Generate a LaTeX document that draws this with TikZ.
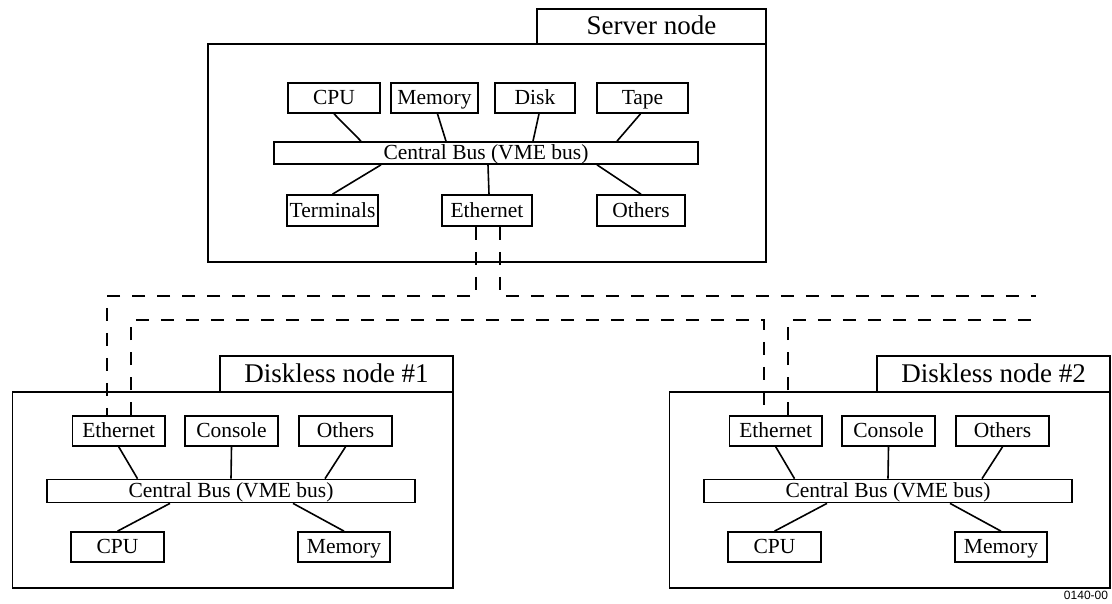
\documentclass[tikz,border=0pt]{standalone}
\usepackage{fontspec}
\setmainfont{Liberation Serif}
\newfontfamily\codefont{Liberation Sans}
\usetikzlibrary{calc}

\tikzset{
  unit/.style={draw, line width=1.7pt, inner sep=0pt, minimum height=30pt,
    text height=14pt, text depth=1pt,
    font=\fontsize{21.5}{24}\selectfont},
  busbar/.style={unit, minimum height=23pt},
  frame/.style={draw, line width=1.8pt, inner sep=0pt},
  tab/.style={draw, line width=1.8pt, inner sep=0pt,
    text height=17pt, text depth=1pt,
    font=\fontsize{27}{30}\selectfont},
  link/.style={line width=1.6pt},
  cable/.style={line width=2pt, dash pattern=on 13pt off 12pt},
}

% One diskless workstation: #1 name prefix, #2 horizontal offset, #3 title
\newcommand{\disklessunit}[3]{%
  \begin{scope}[xshift=#2]
    \node[frame, minimum width=440.5pt, minimum height=196pt] (#1frame) at (232.75,490) {};
    \node[tab, minimum width=233pt, minimum height=36pt] (#1tab) at (336.5,374) {#3};
    \node[unit, minimum width=92.5pt] (#1eth) at (118.75,431) {Ethernet};
    \node[unit, minimum width=93pt] (#1con) at (231.5,431) {Console};
    \node[unit, minimum width=93pt] (#1oth) at (345.5,431) {Others};
    \node[busbar, minimum width=368pt] (#1bus) at (231,491) {Central Bus (VME bus)};
    \node[unit, minimum width=93pt] (#1cpu) at (117.5,547) {CPU};
    \node[unit, minimum width=92pt] (#1mem) at (344,547) {Memory};
    \draw[link] (#1eth.south) -- ([xshift=-93.5pt]#1bus.north);
    \draw[link] (#1con.south) -- (#1bus.north);
    \draw[link] (#1oth.south) -- ([xshift=94pt]#1bus.north);
    \draw[link] ([xshift=-61pt]#1bus.south) -- (#1cpu.north);
    \draw[link] ([xshift=62pt]#1bus.south) -- (#1mem.north);
  \end{scope}}

\begin{document}
\begin{tikzpicture}[x=1pt, y=-1pt]
  \useasboundingbox (0,0) rectangle (1112,603);

  % Server node
  \node[frame, minimum width=558pt, minimum height=218pt] (sframe) at (487,153) {};
  \node[tab, minimum width=229pt, minimum height=35pt] (stab) at (651.5,26.5) {Server node};
  \node[unit, minimum width=92pt] (cpu) at (334,98) {CPU};
  \node[unit, minimum width=87pt] (mem) at (434.5,98) {Memory};
  \node[unit, minimum width=80pt] (disk) at (535,98) {Disk};
  \node[unit, minimum width=91pt] (tape) at (642.5,98) {Tape};
  \node[busbar, minimum width=424pt, minimum height=22pt] (sbus) at (486,153) {Central Bus (VME bus)};
  \node[unit, minimum width=91pt, minimum height=31pt] (term) at (332.5,210.5) {Terminals};
  \node[unit, minimum width=90pt, minimum height=31pt] (seth) at (487,210.5) {Ethernet};
  \node[unit, minimum width=88pt, minimum height=31pt] (soth) at (641,210.5) {Others};

  \draw[link] (cpu.south) -- ([xshift=-125pt]sbus.north);
  \draw[link] ([xshift=3pt]mem.south) -- ([xshift=-40pt]sbus.north);
  \draw[link] ([xshift=4pt]disk.south) -- ([xshift=47pt]sbus.north);
  \draw[link] ([xshift=-2pt]tape.south) -- ([xshift=131pt]sbus.north);
  \draw[link] ([xshift=-105pt]sbus.south) -- (term.north);
  \draw[link] ([xshift=2pt]sbus.south) -- ([xshift=2pt]seth.north);
  \draw[link] ([xshift=111pt]sbus.south) -- (soth.north);

  % Diskless workstations
  \disklessunit{da}{0pt}{Diskless node \#1}
  \disklessunit{db}{657pt}{Diskless node \#2}

  % Ethernet cabling
  \coordinate (trunkA) at (0,296);
  \coordinate (trunkB) at (0,320);
  \coordinate (endA) at (1036,296);
  \coordinate (endB) at (1036,320);

  \draw[cable] ([xshift=-11pt]seth.south) -- ([xshift=-11pt]seth.south |- trunkA)
    -| ([xshift=-11.75pt]daeth.north);
  \draw[cable] ([xshift=13pt]seth.south) |- (endA);
  \draw[cable] ([xshift=12.25pt]daeth.north) |- ([xshift=-11.75pt]dbeth.north |- trunkB)
    -- ([xshift=-11.75pt]dbeth.north);
  \draw[cable] ([xshift=12.25pt]dbeth.north) |- (endB);

  % Drawing number
  \node[font=\codefont\fontsize{12}{14}\selectfont, inner sep=0pt] (code) at (1086,595) {0140-00};
\end{tikzpicture}
\end{document}
